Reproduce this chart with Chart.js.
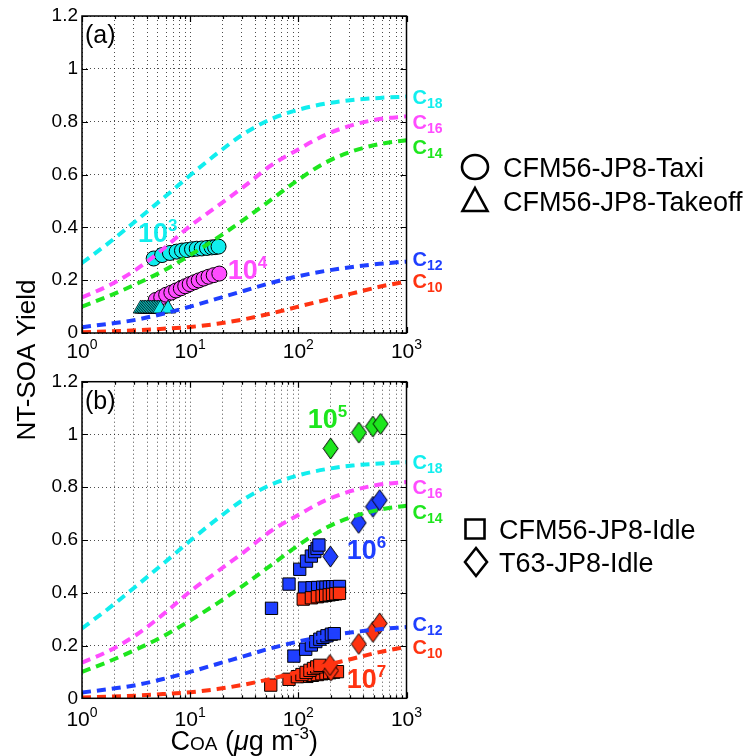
<!DOCTYPE html>
<html>
<head>
<meta charset="utf-8">
<script src="https://cdn.jsdelivr.net/npm/chart.js@4.4.1/dist/chart.umd.min.js"></script>
<style>
  body { margin: 0; background: #fff; }
  #wrap { position: relative; width: 751px; height: 756px; }
  #wrap canvas { position: absolute; left: 0; top: 0; }
</style>
</head>
<body>
<div id="wrap">
  <canvas id="panelA" width="751" height="756"></canvas>
  <canvas id="panelB" width="751" height="756"></canvas>
</div>
<script>
// ---- surrogate n-alkane yield curves, read at fixed C_OA points ----
const coaGrid = [1, 1.78, 3.16, 5.62, 10, 17.8, 31.6, 56.2, 100, 178, 316, 562, 1000];
const yieldC10 = [0.003, 0.006, 0.01, 0.016, 0.023, 0.035, 0.052, 0.074, 0.10, 0.125, 0.15, 0.175, 0.195];
const yieldC12 = [0.022, 0.035, 0.05, 0.073, 0.10, 0.13, 0.16, 0.19, 0.215, 0.235, 0.25, 0.262, 0.27];
const yieldC14 = [0.10, 0.14, 0.185, 0.235, 0.295, 0.36, 0.43, 0.505, 0.58, 0.645, 0.688, 0.715, 0.73];
const yieldC16 = [0.135, 0.18, 0.24, 0.318, 0.405, 0.48, 0.555, 0.635, 0.695, 0.75, 0.787, 0.81, 0.82];
const yieldC18 = [0.265, 0.342, 0.425, 0.51, 0.597, 0.68, 0.755, 0.81, 0.845, 0.868, 0.882, 0.89, 0.895];
const alkaneCarbons = ['10', '12', '14', '16', '18'];

// ---- panel (a): CFM56 taxi / takeoff ----
const taxiD3X = [4.6, 5.5, 6.5, 7.5, 8.4, 9.3, 10.4, 11.5, 12.8, 14.3, 15.8, 17.0, 18.3];
const taxiD3Y = [0.282, 0.295, 0.303, 0.308, 0.312, 0.314, 0.317, 0.319, 0.32, 0.322, 0.324, 0.325, 0.327];
const taxiD4X = [4.8, 5.4, 6.0, 6.7, 7.4, 8.2, 9.0, 9.9, 10.9, 12.0, 13.3, 14.8, 16.5, 18.6];
const taxiD4Y = [0.125, 0.135, 0.145, 0.153, 0.161, 0.169, 0.177, 0.185, 0.192, 0.199, 0.206, 0.213, 0.219, 0.225];
const takeoffD3X = [3.49, 3.62, 3.75, 3.88, 4.02, 4.16, 4.31, 4.46, 4.62, 4.78, 4.95, 5.12, 5.3, 6.25];
const takeoffD3Y = [0.092, 0.092, 0.092, 0.092, 0.092, 0.092, 0.092, 0.092, 0.092, 0.092, 0.092, 0.092, 0.092, 0.092];

// ---- panel (b): CFM56 idle (squares) and T63 idle (diamonds) ----
const idleD6UpperX = [56.5, 82, 103, 119, 132, 142, 149, 155];
const idleD6UpperY = [0.341, 0.433, 0.489, 0.52, 0.539, 0.556, 0.568, 0.581];
const idleD6RowX = [114, 134, 151, 168, 180, 194, 208, 223, 240];
const idleD6RowY = [0.418, 0.419, 0.42, 0.421, 0.421, 0.422, 0.423, 0.423, 0.424];
const idleD7RowX = [111, 132, 150, 166, 179, 193, 207, 222, 240];
const idleD7RowY = [0.376, 0.381, 0.385, 0.388, 0.39, 0.392, 0.394, 0.396, 0.398];
const idleD6LowerX = [91, 117, 132, 145, 158, 169, 184, 202, 215];
const idleD6LowerY = [0.16, 0.186, 0.202, 0.215, 0.224, 0.231, 0.237, 0.243, 0.245];
const idleD7FlatX = [120, 135, 150, 165, 180, 195, 212, 230];
const idleD7FlatY = [0.083, 0.087, 0.09, 0.093, 0.095, 0.097, 0.099, 0.101];
const idleD7LowerX = [55.6, 82, 98, 108, 118, 128, 138, 148, 158];
const idleD7LowerY = [0.05, 0.072, 0.082, 0.09, 0.098, 0.106, 0.113, 0.119, 0.125];
const t63D5X = [199, 363, 489, 576];
const t63D5Y = [0.947, 1.007, 1.03, 1.04];
const t63D6X = [198, 361, 490, 565];
const t63D6Y = [0.537, 0.665, 0.726, 0.751];
const t63D7X = [200, 196, 362, 490, 565];
const t63D7Y = [0.105, 0.126, 0.206, 0.252, 0.284];

// ---- axes ----
const xTickValues = [1, 2, 3, 4, 5, 6, 7, 8, 9, 10, 20, 30, 40, 50, 60, 70, 80, 90,
  100, 200, 300, 400, 500, 600, 700, 800, 900, 1000];
const xDecades = [1, 10, 100, 1000];
const xDecadeExps = ['0', '1', '2', '3'];
const yTickValues = [0, 0.2, 0.4, 0.6, 0.8, 1, 1.2];
const yTickLabels = ['0', '0.2', '0.4', '0.6', '0.8', '1', '1.2'];

const FONT = "'Liberation Sans', Arial, Helvetica, sans-serif";
const COL = {
  red: '#ff3311', blue: '#1f3fff', green: '#1ee61e', magenta: '#ff4cff', cyan: '#11eeee'
};
const alkaneColors = [COL.red, COL.blue, COL.green, COL.magenta, COL.cyan];
const alkaneYields = [yieldC10, yieldC12, yieldC14, yieldC16, yieldC18];
const alkaneLabelY = [0.195, 0.28, 0.705, 0.80, 0.895];

Chart.defaults.font.family = FONT;
Chart.defaults.color = '#000';

const pts = (xs, ys) => xs.map((x, i) => ({ x, y: ys[i] }));

function diamondImage(fill, w, h, lw) {
  const c = document.createElement('canvas');
  c.width = Math.ceil(w + lw * 2);
  c.height = Math.ceil(h + lw * 2);
  const g = c.getContext('2d');
  const cx = c.width / 2, cy = c.height / 2;
  g.beginPath();
  g.moveTo(cx, cy - h / 2);
  g.lineTo(cx + w / 2, cy);
  g.lineTo(cx, cy + h / 2);
  g.lineTo(cx - w / 2, cy);
  g.closePath();
  g.fillStyle = fill;
  g.fill();
  g.lineWidth = lw;
  g.strokeStyle = '#000';
  g.stroke();
  return c;
}

function curveDatasets() {
  return alkaneYields.map((ys, i) => ({
    type: 'line',
    data: pts(coaGrid, ys),
    borderColor: alkaneColors[i],
    borderWidth: 4,
    borderDash: [9, 6],
    borderCapStyle: 'butt',
    pointRadius: 0,
    cubicInterpolationMode: 'monotone',
    fill: false,
    order: 0
  }));
}

function markerSet(data, style, color, radius, order, edge = 1) {
  return {
    type: 'scatter',
    data,
    pointStyle: style,
    pointRadius: radius,
    pointBackgroundColor: color,
    pointBorderColor: '#000',
    pointBorderWidth: edge,
    showLine: false,
    order
  };
}

// draws a run of text pieces (different fonts / vertical offsets) from a left x and baseline
function drawRuns(ctx, runs, x, y, align) {
  let total = 0;
  runs.forEach(r => { ctx.font = r.font; total += ctx.measureText(r.text).width; });
  let cx = align === 'center' ? x - total / 2 : x;
  ctx.textAlign = 'left';
  ctx.textBaseline = 'alphabetic';
  runs.forEach(r => {
    ctx.font = r.font;
    ctx.fillText(r.text, cx, y + (r.dy || 0));
    cx += ctx.measureText(r.text).width;
  });
}

const axesPlugin = {
  id: 'axesDecor',
  afterDatasetsDraw(chart, args, opts) {
    const { ctx, chartArea: a, scales: { x, y } } = chart;
    ctx.save();
    // box and inward ticks
    ctx.strokeStyle = '#000';
    ctx.lineWidth = 1.5;
    ctx.strokeRect(a.left, a.top, a.right - a.left, a.bottom - a.top);
    ctx.lineWidth = 1.2;
    ctx.beginPath();
    yTickValues.forEach(v => {
      const py = Math.round(y.getPixelForValue(v)) + 0.5;
      ctx.moveTo(a.left, py); ctx.lineTo(a.left + 6, py);
      ctx.moveTo(a.right, py); ctx.lineTo(a.right - 6, py);
    });
    xTickValues.forEach(v => {
      const px = Math.round(x.getPixelForValue(v)) + 0.5;
      const len = xDecades.includes(v) ? 6 : 3;
      ctx.moveTo(px, a.bottom); ctx.lineTo(px, a.bottom - len);
      ctx.moveTo(px, a.top); ctx.lineTo(px, a.top + len);
    });
    ctx.stroke();

    // decade labels 10^n
    ctx.fillStyle = '#000';
    xDecades.forEach((v, i) => {
      drawRuns(ctx, [
        { text: '10', font: `21px ${FONT}` },
        { text: xDecadeExps[i], font: `14px ${FONT}`, dy: -9 }
      ], x.getPixelForValue(v), a.bottom + opts.tickBaseline, 'center');
    });

    // panel tag
    ctx.font = `25px ${FONT}`;
    ctx.fillText(opts.tag, a.left + 3, a.top + 27);

    // alkane curve names at the right edge
    alkaneCarbons.forEach((c, i) => {
      ctx.fillStyle = alkaneColors[i];
      const base = y.getPixelForValue(alkaneLabelY[i]) + 7;
      drawRuns(ctx, [
        { text: 'C', font: `bold 20px ${FONT}` },
        { text: c, font: `bold 14px ${FONT}`, dy: 4 }
      ], a.right + 6, base, 'left');
    });

    // dilution ratio tags
    opts.dilutions.forEach(d => {
      ctx.fillStyle = d.color;
      const base = y.getPixelForValue(d.y) + 10;
      drawRuns(ctx, [
        { text: '10', font: `bold 27px ${FONT}` },
        { text: d.exp, font: `bold 17px ${FONT}`, dy: -11 }
      ], x.getPixelForValue(d.x), base, 'left');
    });

    // legend
    ctx.strokeStyle = '#000';
    ctx.lineWidth = 2.6;
    ctx.fillStyle = '#000';
    opts.legend.forEach(item => {
      const sx = item.sx, sy = item.sy;
      ctx.beginPath();
      if (item.shape === 'circle') {
        ctx.ellipse(sx, sy, 13, 12, 0, 0, Math.PI * 2);
      } else if (item.shape === 'triangle') {
        ctx.moveTo(sx, sy - 13); ctx.lineTo(sx + 12.5, sy + 10); ctx.lineTo(sx - 12.5, sy + 10); ctx.closePath();
      } else if (item.shape === 'square') {
        ctx.rect(sx - 9.5, sy - 9.5, 19, 19);
      } else {
        ctx.moveTo(sx, sy - 14); ctx.lineTo(sx + 11, sy); ctx.lineTo(sx, sy + 14); ctx.lineTo(sx - 11, sy); ctx.closePath();
      }
      ctx.stroke();
      ctx.font = `27px ${FONT}`;
      ctx.textAlign = 'left';
      ctx.textBaseline = 'alphabetic';
      ctx.fillText(item.text, item.tx, sy + 9.5);
    });

    // shared y title
    if (opts.yTitle) {
      ctx.save();
      ctx.translate(35, 360);
      ctx.rotate(-Math.PI / 2);
      ctx.font = `26px ${FONT}`;
      ctx.textAlign = 'center';
      ctx.textBaseline = 'alphabetic';
      ctx.fillStyle = '#000';
      ctx.fillText(opts.yTitle, 0, 0);
      ctx.restore();
    }
    // x title
    if (opts.xTitle) {
      ctx.fillStyle = '#000';
      drawRuns(ctx, [
        { text: 'C', font: `27px ${FONT}` },
        { text: 'OA', font: `19px ${FONT}` },
        { text: ' (', font: `27px ${FONT}` },
        { text: 'μ', font: `italic 27px ${FONT}` },
        { text: 'g m', font: `27px ${FONT}` },
        { text: '-3', font: `17px ${FONT}`, dy: -11 },
        { text: ')', font: `27px ${FONT}` }
      ], (a.left + a.right) / 2, a.bottom + 52, 'center');
    }
    ctx.restore();
  }
};

function scalesConfig() {
  return {
    x: {
      type: 'logarithmic',
      min: 1,
      max: 1000,
      afterBuildTicks: s => { s.ticks = xTickValues.map(v => ({ value: v })); },
      afterFit: s => { s.height = 0; },
      ticks: { display: false },
      grid: { color: 'rgba(0,0,0,0.7)', lineWidth: 1, drawTicks: false },
      border: { display: false, dash: [1, 3] }
    },
    y: {
      type: 'linear',
      min: 0,
      max: 1.2,
      afterBuildTicks: s => { s.ticks = yTickValues.map(v => ({ value: v })); },
      afterFit: s => { s.width = 82; },
      ticks: {
        padding: 4,
        font: { size: 19 },
        color: '#000',
        callback: (v, i) => yTickLabels[i]
      },
      grid: { color: 'rgba(0,0,0,0.7)', lineWidth: 1, drawTicks: false },
      border: { display: false, dash: [1, 3] }
    }
  };
}

function baseOptions(padding, decor) {
  return {
    responsive: false,
    animation: false,
    devicePixelRatio: 1,
    layout: { padding },
    scales: scalesConfig(),
    plugins: {
      legend: { display: false },
      tooltip: { enabled: false },
      axesDecor: decor
    }
  };
}

// panel (a)
new Chart(document.getElementById('panelA'), {
  type: 'scatter',
  data: {
    datasets: [
      ...curveDatasets(),
      markerSet(pts(takeoffD3X, takeoffD3Y), 'triangle', COL.cyan, 8.7, 1, 0.8),
      markerSet(pts(taxiD4X, taxiD4Y), 'circle', COL.magenta, 7.5, 2),
      markerSet(pts(taxiD3X, taxiD3Y), 'circle', COL.cyan, 7.5, 3)
    ]
  },
  options: baseOptions({ left: 0, top: 16, right: 344.5, bottom: 423 }, {
    tag: '(a)',
    tickBaseline: 25,
    dilutions: [
      { exp: '3', x: 3.29, y: 0.383, color: COL.cyan },
      { exp: '4', x: 22.3, y: 0.243, color: COL.magenta }
    ],
    legend: [
      { shape: 'circle', text: 'CFM56-JP8-Taxi', sx: 475, sy: 167, tx: 503 },
      { shape: 'triangle', text: 'CFM56-JP8-Takeoff', sx: 475, sy: 201, tx: 503 }
    ]
  }),
  plugins: [axesPlugin]
});

// panel (b)
const diamond = c => diamondImage(c, 15, 21, 1);
new Chart(document.getElementById('panelB'), {
  type: 'scatter',
  data: {
    datasets: [
      ...curveDatasets(),
      markerSet(pts(t63D7X, t63D7Y), diamond(COL.red), COL.red, 10, 1),
      markerSet(pts(t63D6X, t63D6Y), diamond(COL.blue), COL.blue, 10, 2),
      markerSet(pts(t63D5X, t63D5Y), diamond(COL.green), COL.green, 10, 3),
      markerSet(pts(idleD7LowerX, idleD7LowerY), 'rect', COL.red, 8.7, 4),
      markerSet(pts(idleD7FlatX, idleD7FlatY), 'rect', COL.red, 8.7, 5),
      markerSet(pts(idleD6LowerX, idleD6LowerY), 'rect', COL.blue, 8.7, 6),
      markerSet(pts(idleD7RowX, idleD7RowY), 'rect', COL.red, 8.7, 7),
      markerSet(pts(idleD6RowX, idleD6RowY), 'rect', COL.blue, 8.7, 8),
      markerSet(pts(idleD6UpperX, idleD6UpperY), 'rect', COL.blue, 8.7, 9)
    ]
  },
  options: baseOptions({ left: 0, top: 381.7, right: 344.5, bottom: 57.7 }, {
    tag: '(b)',
    tickBaseline: 28,
    dilutions: [
      { exp: '5', x: 122, y: 1.062, color: COL.green },
      { exp: '6', x: 280, y: 0.566, color: COL.blue },
      { exp: '7', x: 280, y: 0.077, color: COL.red }
    ],
    legend: [
      { shape: 'square', text: 'CFM56-JP8-Idle', sx: 475, sy: 529, tx: 499 },
      { shape: 'diamond', text: 'T63-JP8-Idle', sx: 476, sy: 562, tx: 499 }
    ],
    yTitle: 'NT-SOA Yield',
    xTitle: true
  }),
  plugins: [axesPlugin]
});
</script>
</body>
</html>
